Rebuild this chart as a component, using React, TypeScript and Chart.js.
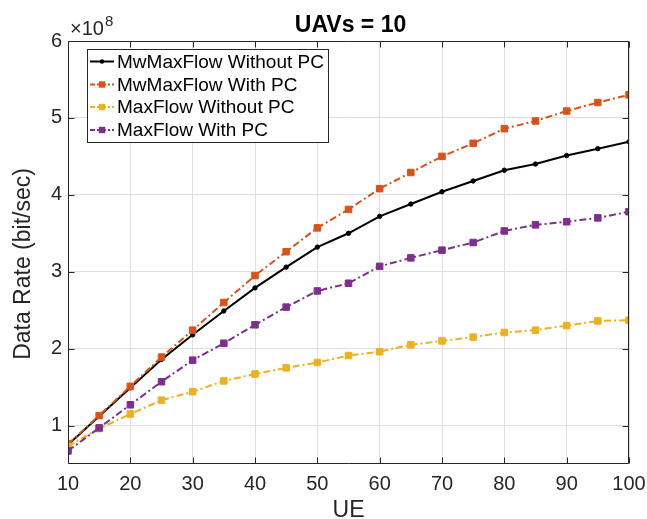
import React, { useEffect, useRef } from "react";
import { Chart, registerables } from "chart.js";

Chart.register(...registerables);

// ---- data (values in units of 1e8 bit/sec) ----
const ueValues = [10, 15, 20, 25, 30, 35, 40, 45, 50, 55, 60, 65, 70, 75, 80, 85, 90, 95, 100];
const mwMaxFlowWithoutPC = [0.75, 1.12, 1.49, 1.86, 2.18, 2.49, 2.79, 3.06, 3.32, 3.5, 3.72, 3.88, 4.04, 4.18, 4.32, 4.4, 4.51, 4.6, 4.69];
const mwMaxFlowWithPC = [0.76, 1.13, 1.51, 1.89, 2.24, 2.6, 2.95, 3.26, 3.57, 3.81, 4.08, 4.29, 4.5, 4.67, 4.86, 4.96, 5.09, 5.2, 5.3];
const maxFlowWithoutPC = [0.73, 0.96, 1.15, 1.33, 1.44, 1.58, 1.67, 1.75, 1.82, 1.91, 1.96, 2.05, 2.1, 2.15, 2.21, 2.24, 2.3, 2.36, 2.37];
const maxFlowWithPC = [0.67, 0.97, 1.27, 1.57, 1.85, 2.07, 2.31, 2.54, 2.75, 2.85, 3.07, 3.18, 3.28, 3.38, 3.53, 3.61, 3.65, 3.7, 3.78];
const seriesNames = ["MwMaxFlow Without PC", "MwMaxFlow With PC", "MaxFlow Without PC", "MaxFlow With PC"];
const xTicks = [10, 20, 30, 40, 50, 60, 70, 80, 90, 100];
const yTicks = [1, 2, 3, 4, 5, 6];
const yMin = 0.5;
const yMax = 6;
const chartTitle = "UAVs = 10";
const xLabel = "UE";
const yLabel = "Data Rate (bit/sec)";
const exponentBase = "\u00d710";
const exponentPower = "8";

const FONT = '"Liberation Sans", Arial, Helvetica, sans-serif';
const AXIS = "#262626";
const GRID = "#dfdfdf";
const COLORS = ["#000000", "#D95319", "#EDB120", "#7E2F8E"];
const DASH = [7, 3, 2, 3];

function drawMarker(ctx: CanvasRenderingContext2D, i: number, x: number, y: number) {
  ctx.save();
  ctx.setLineDash([]);
  ctx.fillStyle = COLORS[i];
  ctx.strokeStyle = COLORS[i];
  if (i === 0) {
    ctx.beginPath();
    ctx.arc(x, y, 2.2, 0, Math.PI * 2);
    ctx.fill();
  } else {
    ctx.fillRect(x - 3.2, y - 3.2, 6.4, 6.4);
  }
  ctx.restore();
}

const decoPlugin = {
  id: "deco",
  afterDatasetsDraw(chart: any) {
    const { ctx, chartArea: a, scales } = chart;
    ctx.save();
    ctx.setLineDash([]);
    ctx.strokeStyle = AXIS;
    ctx.lineWidth = 1;
    const L = Math.round(a.left) + 0.5;
    const R = Math.round(a.right) - 0.5;
    const T = Math.round(a.top) + 0.5;
    const B = Math.round(a.bottom) - 0.5;
    ctx.beginPath();
    ctx.rect(L, T, R - L, B - T);
    ctx.stroke();
    const tl = 6;
    ctx.beginPath();
    xTicks.forEach((v) => {
      const px = Math.round(scales.x.getPixelForValue(v)) + 0.5;
      ctx.moveTo(px, B);
      ctx.lineTo(px, B - tl);
      ctx.moveTo(px, T);
      ctx.lineTo(px, T + tl);
    });
    yTicks.forEach((v) => {
      const py = Math.round(scales.y.getPixelForValue(v)) + 0.5;
      ctx.moveTo(L, py);
      ctx.lineTo(L + tl, py);
      ctx.moveTo(R, py);
      ctx.lineTo(R - tl, py);
    });
    ctx.stroke();
    ctx.restore();
  },
  afterDraw(chart: any) {
    const { ctx, chartArea: a } = chart;
    ctx.save();
    ctx.fillStyle = AXIS;
    // title
    ctx.font = `bold 23px ${FONT}`;
    ctx.textAlign = "center";
    ctx.textBaseline = "alphabetic";
    ctx.fillStyle = "#000";
    ctx.fillText(chartTitle, (a.left + a.right) / 2 + 2, 32);
    // exponent
    ctx.fillStyle = AXIS;
    ctx.textAlign = "left";
    ctx.font = `20px ${FONT}`;
    ctx.fillText(exponentBase, 70, 35);
    const w = ctx.measureText(exponentBase).width;
    ctx.font = `15px ${FONT}`;
    ctx.fillText(exponentPower, 70 + w + 1, 26);
    // x label
    ctx.font = `23px ${FONT}`;
    ctx.textAlign = "center";
    ctx.fillText(xLabel, (a.left + a.right) / 2, 517);
    // y label
    ctx.save();
    ctx.translate(24, 264);
    ctx.rotate(-Math.PI / 2);
    ctx.textBaseline = "middle";
    ctx.fillText(yLabel, 0, 0);
    ctx.restore();
    // legend
    const lx0 = 87, ly0 = 49, lx1 = 329, ly1 = 143;
    ctx.fillStyle = "#fff";
    ctx.fillRect(lx0, ly0, lx1 - lx0, ly1 - ly0);
    ctx.strokeStyle = AXIS;
    ctx.lineWidth = 1;
    ctx.strokeRect(lx0 + 0.5, ly0 + 0.5, lx1 - lx0 - 1, ly1 - ly0 - 1);
    ctx.font = `19px ${FONT}`;
    ctx.textAlign = "left";
    ctx.textBaseline = "middle";
    const rowY = [61.5, 84.5, 107, 130];
    seriesNames.forEach((name, i) => {
      const y = rowY[i];
      ctx.save();
      ctx.strokeStyle = COLORS[i];
      ctx.lineWidth = 2;
      ctx.setLineDash(i === 0 ? [] : [5, 2, 2, 2]);
      ctx.beginPath();
      ctx.moveTo(90, y);
      ctx.lineTo(114, y);
      ctx.stroke();
      ctx.restore();
      drawMarker(ctx, i, 102, y);
      ctx.fillStyle = "#000";
      ctx.fillText(name, 117, y + 1);
    });
    ctx.restore();
  },
};

export default function App() {
  const canvasRef = useRef<HTMLCanvasElement>(null);

  useEffect(() => {
    const canvas = canvasRef.current;
    if (!canvas) return;
    const seriesData = [mwMaxFlowWithoutPC, mwMaxFlowWithPC, maxFlowWithoutPC, maxFlowWithPC];
    const datasets = seriesNames.map((name, i) => ({
      label: name,
      data: ueValues.map((x, j) => ({ x, y: seriesData[i][j] })),
      borderColor: COLORS[i],
      backgroundColor: COLORS[i],
      borderWidth: 2,
      borderDash: i === 0 ? [] : DASH,
      pointStyle: i === 0 ? "circle" : "rect",
      pointRadius: i === 0 ? 2.2 : 4.6,
      pointBorderWidth: 1,
      pointBackgroundColor: COLORS[i],
      pointBorderColor: COLORS[i],
      tension: 0,
      fill: false,
      order: 4 - i,
    }));

    const chart = new Chart(canvas, {
      type: "line",
      data: { datasets },
      plugins: [decoPlugin],
      options: {
        responsive: false,
        animation: false,
        devicePixelRatio: 1,
        layout: { padding: { top: 41, right: 18, left: 0, bottom: 0 } },
        plugins: {
          legend: { display: false },
          title: { display: false },
          tooltip: { enabled: false },
        },
        scales: {
          x: {
            type: "linear",
            min: 10,
            max: 100,
            afterBuildTicks: (s: any) => {
              s.ticks = xTicks.map((v) => ({ value: v }));
            },
            afterFit: (s: any) => {
              s.height = 55;
              s.paddingLeft = 0;
              s.paddingRight = 0;
            },
            grid: { color: GRID, drawTicks: false, lineWidth: 1 },
            border: { display: false },
            ticks: {
              font: { family: FONT, size: 20 },
              color: AXIS,
              padding: 8,
              maxRotation: 0,
              autoSkip: false,
            },
          },
          y: {
            type: "linear",
            min: yMin,
            max: yMax,
            afterBuildTicks: (s: any) => {
              s.ticks = yTicks.map((v) => ({ value: v }));
            },
            afterFit: (s: any) => {
              s.width = 68;
              s.paddingTop = 0;
              s.paddingBottom = 0;
            },
            grid: { color: GRID, drawTicks: false, lineWidth: 1 },
            border: { display: false },
            ticks: {
              font: { family: FONT, size: 20 },
              color: AXIS,
              padding: 6,
              autoSkip: false,
              callback: (v: any) => String(v),
            },
          },
        },
      } as any,
    });
    return () => chart.destroy();
  }, []);

  return (
    <div style={{ position: "absolute", left: 0, top: 0, width: 647, height: 519, background: "#fff" }}>
      <canvas ref={canvasRef} width={647} height={519} style={{ display: "block" }} />
    </div>
  );
}
